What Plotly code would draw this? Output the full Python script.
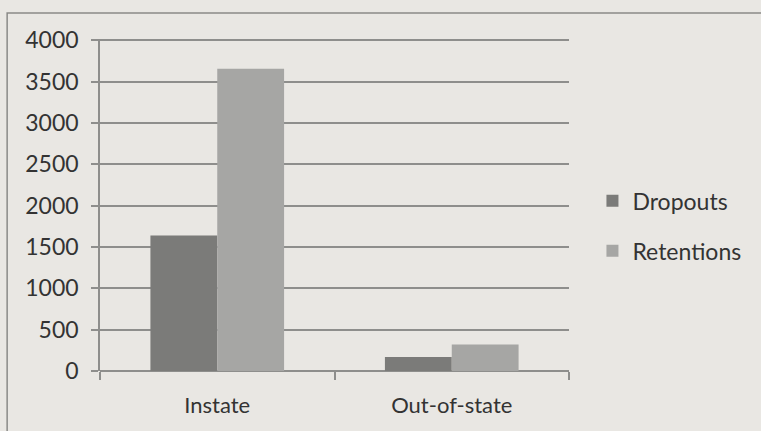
import plotly.graph_objects as go

# Student counts by residency
categories = ["Instate", "Out-of-state"]
dropouts = [1640, 170]
retentions = [3655, 320]
y_ticks = [0, 500, 1000, 1500, 2000, 2500, 3000, 3500, 4000]

BG = "#e9e7e3"
GRID = "#8e8e8c"
TEXT = "#333333"
FONT = "Lato, 'Open Sans', sans-serif"

fig = go.Figure()
fig.add_trace(go.Bar(
    name="Dropouts", x=categories, y=dropouts,
    marker=dict(color="#7b7b79", line=dict(width=0)),
    legendgroup="d",
))
fig.add_trace(go.Bar(
    name="Retentions", x=categories, y=retentions,
    marker=dict(color="#a6a6a4", line=dict(width=0)),
    legendgroup="r",
))

fig.update_layout(
    width=761, height=431,
    margin=dict(l=100, r=192, t=39, b=60, autoexpand=False),
    paper_bgcolor=BG, plot_bgcolor=BG,
    barmode="group", bargap=0.43, bargroupgap=0,
    font=dict(family=FONT, size=23, color=TEXT),
    showlegend=True,
    legend=dict(
        x=1.05, xanchor="left", y=0.437, yanchor="middle",
        bgcolor="rgba(0,0,0,0)", tracegroupgap=17,
        traceorder="grouped", font=dict(size=23, color=TEXT),
    ),
    xaxis=dict(
        showgrid=False, tickson="boundaries", ticks="outside",
        ticklen=8, tickcolor=GRID, tickwidth=1.5,
        showline=False, zeroline=False,
        tickfont=dict(size=22, color=TEXT), ticklabelstandoff=19,
    ),
    yaxis=dict(
        range=[0, 4015], tickvals=y_ticks, autorange=False,
        showgrid=True, gridcolor=GRID, gridwidth=1.5,
        ticks="outside", ticklen=7, tickcolor=GRID, tickwidth=1.5,
        showline=True, linecolor=GRID, linewidth=1.5,
        zeroline=True, zerolinecolor=GRID, zerolinewidth=1.5,
        tickfont=dict(size=23, color=TEXT), ticklabelstandoff=8,
    ),
    shapes=[dict(
        type="rect", xref="paper", yref="paper",
        x0=-0.198, x1=2.0, y0=-1.0, y1=1.078,
        line=dict(color="#8a8a88", width=1.5), layer="below",
    )],
)

fig.write_html("out.html")
